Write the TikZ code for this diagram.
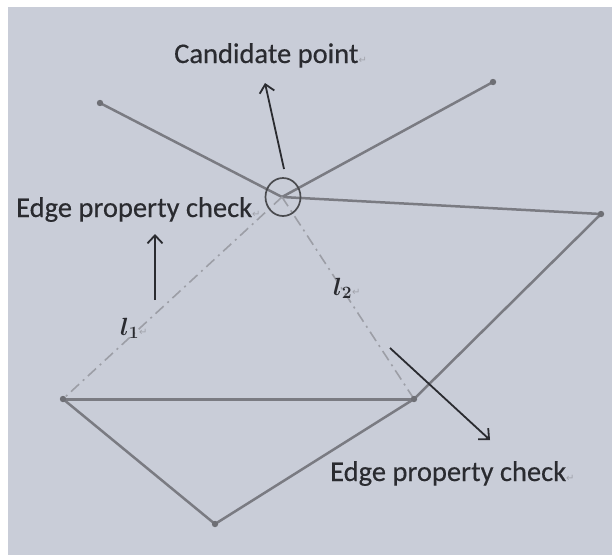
\documentclass[tikz,border=0pt]{standalone}
\usepackage{fontspec}
\usepackage{bm}
\setmainfont{Carlito}
\newfontfamily\lblfont[FakeBold=0.35]{Carlito}
\newfontfamily\symfont{DejaVu Sans}
\usetikzlibrary{arrows.meta,shapes.geometric}
\definecolor{bg}{HTML}{C9CDD8}
\definecolor{edgec}{HTML}{7A7B82}
\definecolor{dashc}{HTML}{9C9EA6}
\definecolor{ink}{HTML}{2A2B30}
\definecolor{markc}{HTML}{A2A4AC}
\newcommand{\retmark}{{\symfont\fontsize{10}{10}\selectfont\textcolor{markc}{↵}}}
\begin{document}
\begin{tikzpicture}[x=1pt,y=-1pt,
  edgeline/.style={draw=edgec,line width=2.5pt,line cap=round,line join=round},
  dashline/.style={draw=dashc,line width=1.6pt,dash pattern=on 11pt off 5pt on 2pt off 5pt},
  pointdot/.style={fill=edgec!90!black,draw=none},
  callout/.style={draw=ink,line width=1.8pt,-{Straight Barb[length=8pt,width=15pt,line width=1.8pt]}},
  lbl/.style={font=\lblfont\fontsize{28.5}{30}\selectfont,text=ink,inner sep=0pt,anchor=base west},
  mlbl/.style={font=\fontsize{24}{26}\selectfont,text=ink,inner sep=0pt,anchor=base west}]
\useasboundingbox (0,0) rectangle (612,555);
\fill[white] (0,0) rectangle (612,555);
\fill[bg] (8,7) rectangle (612,555);
% points
\coordinate (C) at (282,197);
\coordinate (TL) at (100,103);
\coordinate (TR) at (493,82);
\coordinate (RP) at (601,214);
\coordinate (BL) at (63,399);
\coordinate (BR) at (414,399);
\coordinate (BB) at (215,524);
% solid edges
\draw[edgeline] (TL) -- (C);
\draw[edgeline] (TR) -- (C);
\draw[edgeline] (RP) -- (C);
\draw[edgeline,line width=3pt] (BL) -- (BR);
\draw[edgeline] (BL) -- (BB);
\draw[edgeline] (BB) -- (BR) -- (RP);
% dashed edges
\draw[dashline] (C) -- (BL);
\draw[dashline] (C) -- (BR);
% dots
\foreach \p in {TL,TR,RP,BL,BR,BB} \fill[pointdot] (\p) circle (3.2pt);
% candidate circle
\node[draw=ink!85,line width=1.7pt,ellipse,minimum width=35pt,minimum height=38pt,inner sep=0pt] (cand) at (283,197) {};
% labels
\node[lbl] (candtxt) at (174,63) {Candidate point\retmark};
\node[lbl] (lefttxt) at (16,217) {Edge property check\retmark};
\node[lbl] (righttxt) at (330,481) {Edge property check\retmark};
\node[mlbl] (l1) at (120,335) {$\bm{l}_{\bm{1}}$\retmark};
\node[mlbl] (l2) at (333,295) {$\bm{l}_{\bm{2}}$\retmark};
% callout arrows
\coordinate (a1s) at (284,169);
\coordinate (a1e) at (265,83);
\coordinate (a2s) at (155,300);
\coordinate (a2e) at (155,234);
\coordinate (a3s) at (390,348);
\coordinate (a3e) at (490,440);
\draw[callout] (a1s) -- (a1e);
\draw[callout] (a2s) -- (a2e);
\draw[callout] (a3s) -- (a3e);
\end{tikzpicture}
\end{document}
